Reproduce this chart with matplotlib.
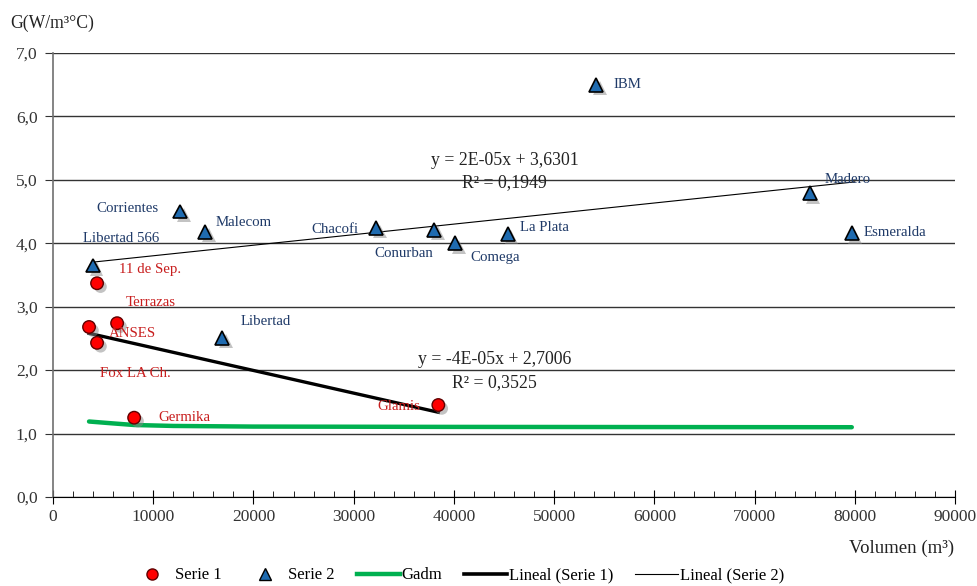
import numpy as np
import matplotlib
matplotlib.use("Agg")
import matplotlib.pyplot as plt
import matplotlib.patheffects as pe
from matplotlib.ticker import MultipleLocator, FuncFormatter
from matplotlib.lines import Line2D

plt.rcParams['font.family'] = ['Liberation Serif', 'DejaVu Serif']

# Serie 1 (circles)
s1_names = ["11 de Sep.", "Terrazas", "ANSES", "Fox LA Ch.", "Germika", "Glamis"]
s1_vol = [4400, 6400, 3600, 4400, 8100, 38450]
s1_g = [3.37, 2.74, 2.68, 2.43, 1.25, 1.45]

# Serie 2 (triangles)
s2_names = ["Libertad 566", "Corrientes", "Malecom", "Libertad", "Chacofi", "Conurban",
            "Comega", "La Plata", "IBM", "Madero", "Esmeralda"]
s2_vol = [4000, 12700, 15200, 16900, 32250, 38050, 40150, 45400, 54200, 75500, 79700]
s2_g = [3.65, 4.50, 4.18, 2.51, 4.24, 4.21, 4.00, 4.15, 6.50, 4.79, 4.16]

# Gadm curve
gadm_vol = [3600, 6000, 8100, 12000, 20000, 40000, 79700]
gadm_g = [1.19, 1.16, 1.135, 1.12, 1.11, 1.105, 1.10]

# label placement (offset pixels, alignment)
s1_lab = {"11 de Sep.": (22, 14, 'left'), "Terrazas": (9, 21, 'left'), "ANSES": (20, -7, 'left'),
          "Fox LA Ch.": (3, -31, 'left'), "Germika": (24, 0, 'left'), "Glamis": (-18, -1, 'right')}
s2_lab = {"Libertad 566": (-10, 27, 'left'), "Corrientes": (-22, 3, 'right'), "Malecom": (10, 9, 'left'),
          "Libertad": (18, 16, 'left'), "Chacofi": (-18, -1, 'right'), "Conurban": (-1, -24, 'right'),
          "Comega": (15, -14, 'left'), "La Plata": (12, 6, 'left'), "IBM": (17, 0, 'left'),
          "Madero": (15, 14, 'left'), "Esmeralda": (12, 1, 'left')}

red_txt = '#C81E1E'
blue_txt = '#1F3A68'

fig = plt.figure(figsize=(9.77, 5.86), dpi=100)
ax = fig.add_axes([0.0542, 0.1519, 0.9233, 0.7577])

shadow = [pe.SimplePatchShadow(offset=(2.5, -2.5), shadow_rgbFace='#888888', alpha=0.5), pe.Normal()]

ax.plot(gadm_vol, gadm_g, color='#00B050', lw=3.2, solid_capstyle='round', zorder=3)

# trend lines
p1 = np.polyfit(s1_vol, s1_g, 1)
x1 = np.array([min(s1_vol), max(s1_vol)])
ax.plot(x1, np.polyval(p1, x1), color='black', lw=2.4, zorder=4)
p2 = np.polyfit(s2_vol, s2_g, 1)
x2 = np.array([min(s2_vol), max(s2_vol) + 300])
ax.plot(x2, np.polyval(p2, x2), color='black', lw=0.8, zorder=4)

ax.plot(s1_vol, s1_g, 'o', ms=9, mfc='#FF0000', mec='#600000', mew=1.0, ls='none',
        zorder=5, path_effects=shadow)
ax.plot(s2_vol, s2_g, '^', ms=10, mfc='#1F6BB0', mec='black', mew=1.2, ls='none',
        zorder=5, path_effects=shadow)

for n, x, y in zip(s1_names, s1_vol, s1_g):
    dx, dy, ha = s1_lab[n]
    ax.annotate(n, (x, y), xytext=(dx, dy), textcoords='offset pixels', ha=ha, va='center',
                color=red_txt, fontsize=10.7, zorder=6)
for n, x, y in zip(s2_names, s2_vol, s2_g):
    dx, dy, ha = s2_lab[n]
    ax.annotate(n, (x, y), xytext=(dx, dy), textcoords='offset pixels', ha=ha, va='center',
                color=blue_txt, fontsize=10.7, zorder=6)

eq_kw = dict(ha='center', va='center', fontsize=12.8, color='#222222')
ax.text(45040, 5.31, "y = 2E-05x + 3,6301", **eq_kw)
ax.text(45040, 4.95, "R² = 0,1949", **eq_kw)
ax.text(44050, 2.16, "y = -4E-05x + 2,7006", **eq_kw)
ax.text(44050, 1.81, "R² = 0,3525", **eq_kw)

ax.set_xlim(0, 90000)
ax.set_ylim(0, 7)
ax.yaxis.set_major_locator(MultipleLocator(1))
ax.yaxis.set_major_formatter(FuncFormatter(lambda v, p: f"{v:.1f}".replace('.', ',')))
ax.xaxis.set_major_locator(MultipleLocator(10000))
ax.xaxis.set_minor_locator(MultipleLocator(2000))
ax.grid(axis='y', color='#333333', lw=1.0)
ax.set_axisbelow(True)
for s in ['top', 'right']:
    ax.spines[s].set_visible(False)
ax.spines['left'].set_color('#707070')
ax.spines['left'].set_linewidth(1.2)
ax.spines['bottom'].set_color('black')
ax.tick_params(axis='y', direction='out', length=6, color='#333333', labelsize=12.5, pad=5,
               labelcolor='#333333')
ax.tick_params(axis='x', which='major', direction='inout', length=10, color='black', labelsize=12.5,
               pad=4, labelcolor='#333333')
ax.tick_params(axis='x', which='minor', direction='in', length=4, color='black')

fig.text(0.010, 0.960, "G(W/m³°C)", fontsize=12.7, ha='left', va='center', color='#222222')
fig.text(0.977, 0.064, "Volumen (m³)", fontsize=13.5, ha='right', va='center', color='#222222')

handles = [
    Line2D([], [], marker='o', ls='none', ms=8, mfc='#FF0000', mec='#600000'),
    Line2D([], [], marker='^', ls='none', ms=9, mfc='#1F6BB0', mec='black'),
    Line2D([], [], color='#00B050', lw=3.2),
    Line2D([], [], color='black', lw=2.6),
    Line2D([], [], color='black', lw=0.8),
]
labels = ["Serie 1", "Serie 2", "Gadm", "Lineal (Serie 1)", "Lineal (Serie 2)"]
fig.legend(handles, labels, loc='center', bbox_to_anchor=(0.468, 0.018), ncol=5, frameon=False,
           fontsize=12, handlelength=2.6, handletextpad=0.1, columnspacing=1.3)

fig.savefig("out.png", dpi=100)
